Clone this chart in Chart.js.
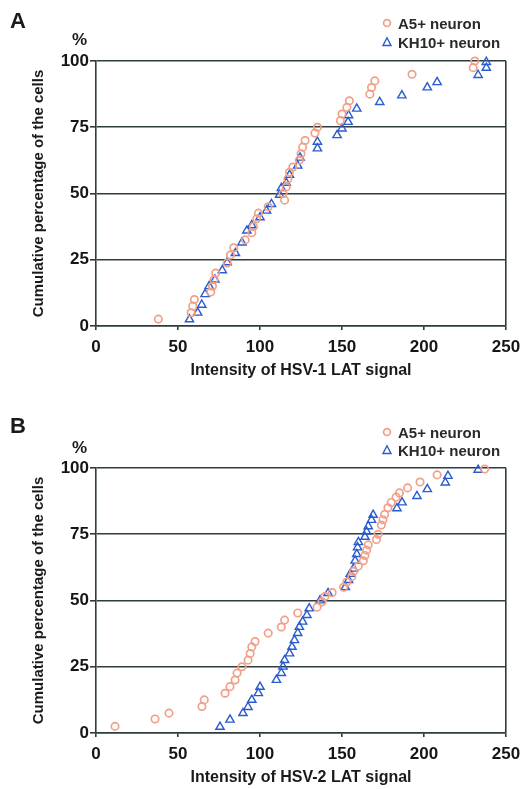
<!DOCTYPE html>
<html>
<head>
<meta charset="utf-8">
<script src="https://cdn.jsdelivr.net/npm/chart.js@4.4.1/dist/chart.umd.min.js"></script>
<style>
  body { margin: 0; background: #fff; }
  #page { position: relative; width: 523px; height: 789px; font-family: "Liberation Sans", Arial, sans-serif; color: #1a1a1a; }
  .panel { position: absolute; left: 0; width: 523px; height: 382px; }
  .panel canvas { position: absolute; left: 0; top: 0; }
  .lab { position: absolute; font-weight: bold; white-space: nowrap; line-height: 1; }
  .letter { font-size: 22px; left: 10px; }
  .pct { font-size: 17px; left: 72px; }
  .leg { font-size: 15px; left: 398px; color: #2a2a2a; }
  .mk { position: absolute; left: 381px; width: 12px; height: 12px; }
</style>
</head>
<body>
<div id="page">
  <div class="panel" style="top:0px">
    <canvas id="chartA" width="523" height="382"></canvas>
    <div class="lab letter" style="top:10px">A</div>
    <div class="lab pct" style="top:31px">%</div>
    <svg class="mk" style="top:17px" viewBox="0 0 12 12"><circle cx="6" cy="6" r="3.4" fill="none" stroke="#f0a088" stroke-width="1.7"/></svg>
    <div class="lab leg" style="top:16px">A5+ neuron</div>
    <svg class="mk" style="top:36px" viewBox="0 0 12 12"><polygon points="6,1.8 10,9.5 2,9.5" fill="none" stroke="#2a5bd0" stroke-width="1.4"/></svg>
    <div class="lab leg" style="top:35px">KH10+ neuron</div>
  </div>
  <div class="panel" style="top:407px">
    <canvas id="chartB" width="523" height="382"></canvas>
    <div class="lab letter" style="top:8px">B</div>
    <div class="lab pct" style="top:32px">%</div>
    <svg class="mk" style="top:19px" viewBox="0 0 12 12"><circle cx="6" cy="6" r="3.4" fill="none" stroke="#f0a088" stroke-width="1.7"/></svg>
    <div class="lab leg" style="top:18px">A5+ neuron</div>
    <svg class="mk" style="top:37px" viewBox="0 0 12 12"><polygon points="6,1.8 10,9.5 2,9.5" fill="none" stroke="#2a5bd0" stroke-width="1.4"/></svg>
    <div class="lab leg" style="top:36px">KH10+ neuron</div>
  </div>
</div>
<script>
// panel A: HSV-1 LAT signal
var hsv1A5X = [38, 58, 59, 60, 70, 71, 72, 73, 80, 82, 84, 91, 95, 96, 98, 99, 105, 115, 114, 116, 117, 118, 120, 124, 125, 126, 127.5, 133.5, 135, 149, 150, 153, 154.5, 167, 168, 170, 192.7, 230, 231];
var hsv1A5Y = [2.6, 5, 7.5, 10, 12.8, 15, 17.5, 20, 23.8, 26.8, 29.5, 32.5, 35.2, 37.5, 40.5, 42.6, 45, 47.5, 50, 52.5, 55.5, 58, 60, 62.6, 65, 67.5, 70, 72.8, 75, 77.5, 80, 82.5, 85, 87.5, 90, 92.5, 95, 97.5, 100];
var hsv1KhX = [57, 62, 64.5, 66.5, 69, 72.5, 77, 80, 85, 89, 92, 95, 100, 104, 107, 112, 113, 116, 118, 123, 124.4, 135, 135, 147, 150, 153.7, 154, 159, 173, 186.5, 202, 208, 233, 238, 238];
var hsv1KhY = [2.5, 5, 8, 12, 15, 17.5, 21, 24, 27.5, 31.5, 36, 38, 41, 43.5, 46, 49.5, 52, 54, 57, 60.5, 63.5, 67, 69.5, 72, 74.5, 77, 79.5, 82, 84.5, 87, 90, 92, 94.7, 97.4, 99.6];

// panel B: HSV-2 LAT signal
var hsv2A5X = [11.6, 36, 44.5, 64.6, 66, 78.7, 81.7, 84.8, 86, 89, 92.7, 94, 95, 97, 105, 113, 115, 123, 134.8, 137.8, 139.6, 144, 151, 153, 156, 157, 160, 163, 164, 165, 166, 171, 172, 174, 175, 176, 178, 180, 183, 185, 190, 197.6, 208, 237];
var hsv2A5Y = [2.5, 5.3, 7.5, 10, 12.5, 15, 17.5, 20, 22.6, 25, 27.5, 30, 32.5, 34.5, 37.7, 40, 42.6, 45.3, 47.5, 49.5, 51.5, 53, 55, 57, 59, 61, 63, 65, 67, 69, 71, 73, 75, 78.5, 80.5, 82.5, 85, 87, 89, 90.6, 92.5, 94.7, 97.4, 99.6];
var hsv2KhX = [75.6, 81.7, 89.6, 92.7, 95, 99, 100, 110, 113, 114, 115, 118, 119.5, 121, 123, 124, 126, 128.6, 130, 136.6, 141.5, 152, 154, 155, 157, 158, 159, 159.5, 160, 164, 165, 166, 168, 169, 183.5, 186.6, 195.7, 202, 213, 214.6, 233];
var hsv2KhY = [2.3, 5, 7.5, 9.8, 12.5, 15, 17.4, 20, 22.6, 25, 27.5, 30, 32.5, 35, 37.7, 40, 42, 44.5, 47, 50, 52.8, 55, 57.7, 60, 62, 65, 67.5, 70, 72, 74, 76, 78, 80.4, 82.3, 84.8, 87, 89.4, 92, 94.5, 97, 99.3];

var xTicks = [0, 50, 100, 150, 200, 250];
var yTicks = [0, 25, 50, 75, 100];

var lineColor = '#2e3c3d';
var fontFam = '"Liberation Sans", Arial, sans-serif';

function pts(xs, ys) {
    return xs.map(function (x, i) { return { x: x, y: ys[i] }; });
}

function makePanel(id, a5x, a5y, khx, khy, xTitle) {
    new Chart(document.getElementById(id), {
        type: 'scatter',
        data: {
            datasets: [
                {
                    label: 'A5+ neuron',
                    data: pts(a5x, a5y),
                    pointStyle: 'circle',
                    pointRadius: 3.7,
                    borderColor: '#f0a088',
                    backgroundColor: 'rgba(255,255,255,0)',
                    borderWidth: 1.7,
                    clip: false
                },
                {
                    label: 'KH10+ neuron',
                    data: pts(khx, khy),
                    pointStyle: 'triangle',
                    pointRadius: 4.8,
                    borderColor: '#2a5bd0',
                    backgroundColor: 'rgba(255,255,255,0)',
                    borderWidth: 1.4,
                    clip: false
                }
            ]
        },
        options: {
            responsive: false,
            animation: false,
            devicePixelRatio: 1,
            layout: { padding: { left: 0, right: 17, top: 61, bottom: 0 } },
            plugins: { legend: { display: false }, tooltip: { enabled: false } },
            scales: {
                x: {
                    type: 'linear',
                    min: 0,
                    max: 250,
                    afterBuildTicks: function (s) { s.ticks = xTicks.map(function (v) { return { value: v }; }); },
                    afterFit: function (s) { s.height = 56; s.paddingLeft = 0; s.paddingRight = 0; },
                    ticks: { padding: 7, color: '#151515', font: { family: fontFam, size: 17, weight: 'bold' } },
                    grid: {
                        color: function (c) { return c.tick && c.tick.value === 250 ? lineColor : 'rgba(0,0,0,0)'; },
                        lineWidth: 1.6,
                        tickColor: lineColor,
                        tickLength: 4
                    },
                    border: { display: true, color: lineColor, width: 1.6 },
                    title: {
                        display: true,
                        text: xTitle,
                        color: '#1a1a1a',
                        font: { family: fontFam, size: 16, weight: 'bold' },
                        padding: { top: 0, bottom: 2 }
                    }
                },
                y: {
                    min: 0,
                    max: 100,
                    afterBuildTicks: function (s) { s.ticks = yTicks.map(function (v) { return { value: v }; }); },
                    afterFit: function (s) { s.width = 96; s.paddingTop = 0; s.paddingBottom = 0; },
                    ticks: { padding: 1, color: '#151515', font: { family: fontFam, size: 17, weight: 'bold' } },
                    grid: { color: lineColor, lineWidth: 1.6, tickColor: lineColor, tickLength: 6 },
                    border: { display: true, color: lineColor, width: 1.6 },
                    title: {
                        display: true,
                        text: 'Cumulative percentage of the cells',
                        color: '#1a1a1a',
                        font: { family: fontFam, size: 15, weight: 'bold' },
                        padding: { top: 30, bottom: 0 }
                    }
                }
            }
        }
    });
}

makePanel('chartA', hsv1A5X, hsv1A5Y, hsv1KhX, hsv1KhY, 'Intensity of HSV-1 LAT signal');
makePanel('chartB', hsv2A5X, hsv2A5Y, hsv2KhX, hsv2KhY, 'Intensity of HSV-2 LAT signal');
</script>
</body>
</html>
